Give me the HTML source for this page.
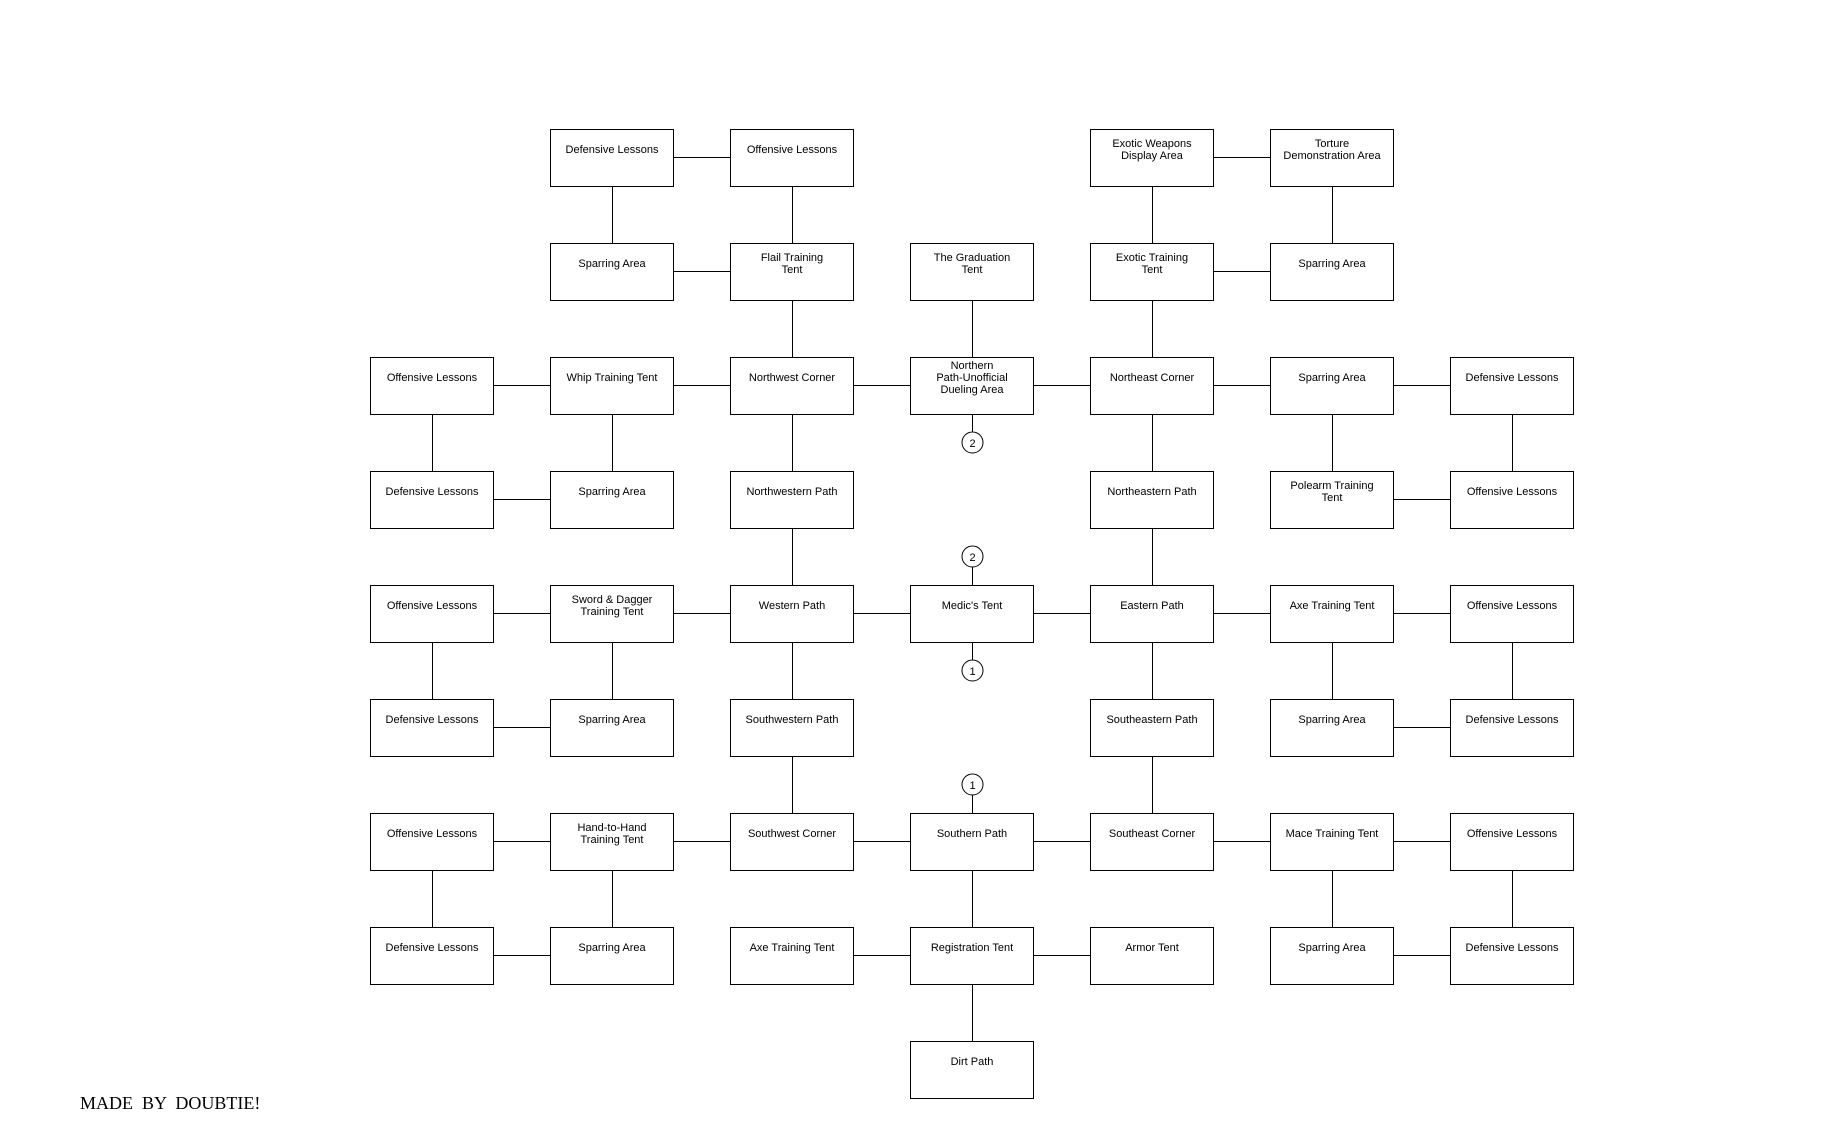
<!DOCTYPE html>
<html><head><meta charset="utf-8"><style>
html,body{margin:0;padding:0;background:#fff;}
svg{display:block;}
text{font-family:"Liberation Sans",Arial,sans-serif;font-size:11px;fill:#000;}
rect{fill:#fff;stroke:#000;stroke-width:1;}
line{stroke:#000;stroke-width:1;}
</style></head><body>
<svg width="1824" height="1136" xmlns="http://www.w3.org/2000/svg">
<g text-anchor="middle">
<line x1="673.5" y1="157.5" x2="730" y2="157.5"/><line x1="1213.5" y1="157.5" x2="1270" y2="157.5"/>
<line x1="673.5" y1="271.5" x2="730" y2="271.5"/><line x1="1213.5" y1="271.5" x2="1270" y2="271.5"/>
<line x1="493.5" y1="385.5" x2="1573" y2="385.5"/>
<line x1="493.5" y1="499.5" x2="550" y2="499.5"/><line x1="1393.5" y1="499.5" x2="1450" y2="499.5"/>
<line x1="493.5" y1="613.5" x2="1573" y2="613.5"/>
<line x1="493.5" y1="727.5" x2="550" y2="727.5"/><line x1="1393.5" y1="727.5" x2="1450" y2="727.5"/>
<line x1="493.5" y1="841.5" x2="1573" y2="841.5"/>
<line x1="493.5" y1="955.5" x2="550" y2="955.5"/><line x1="853.5" y1="955.5" x2="1090" y2="955.5"/><line x1="1393.5" y1="955.5" x2="1450" y2="955.5"/>
<line x1="612.5" y1="186" x2="612.5" y2="243"/><line x1="792.5" y1="186" x2="792.5" y2="243"/><line x1="1152.5" y1="186" x2="1152.5" y2="243"/><line x1="1332.5" y1="186" x2="1332.5" y2="243"/>
<line x1="792.5" y1="300" x2="792.5" y2="357"/><line x1="972.5" y1="300" x2="972.5" y2="357"/><line x1="1152.5" y1="300" x2="1152.5" y2="357"/>
<line x1="432.5" y1="414" x2="432.5" y2="471"/><line x1="612.5" y1="414" x2="612.5" y2="471"/><line x1="792.5" y1="414" x2="792.5" y2="471"/><line x1="1152.5" y1="414" x2="1152.5" y2="471"/><line x1="1332.5" y1="414" x2="1332.5" y2="471"/><line x1="1512.5" y1="414" x2="1512.5" y2="471"/>
<line x1="792.5" y1="528" x2="792.5" y2="585"/><line x1="1152.5" y1="528" x2="1152.5" y2="585"/>
<line x1="432.5" y1="642" x2="432.5" y2="699"/><line x1="612.5" y1="642" x2="612.5" y2="699"/><line x1="792.5" y1="642" x2="792.5" y2="699"/><line x1="1152.5" y1="642" x2="1152.5" y2="699"/><line x1="1332.5" y1="642" x2="1332.5" y2="699"/><line x1="1512.5" y1="642" x2="1512.5" y2="699"/>
<line x1="792.5" y1="756" x2="792.5" y2="813"/><line x1="1152.5" y1="756" x2="1152.5" y2="813"/>
<line x1="432.5" y1="870" x2="432.5" y2="927"/><line x1="612.5" y1="870" x2="612.5" y2="927"/><line x1="972.5" y1="870" x2="972.5" y2="927"/><line x1="1332.5" y1="870" x2="1332.5" y2="927"/><line x1="1512.5" y1="870" x2="1512.5" y2="927"/>
<line x1="972.5" y1="984" x2="972.5" y2="1041"/>
<line x1="972.5" y1="414" x2="972.5" y2="432"/><line x1="972.5" y1="566" x2="972.5" y2="585"/><line x1="972.5" y1="642" x2="972.5" y2="660"/><line x1="972.5" y1="794" x2="972.5" y2="813"/>
<circle cx="972.5" cy="442.5" r="10.5" fill="#fff" stroke="#000"/><text x="972.5" y="447">2</text>
<circle cx="972.5" cy="556.5" r="10.5" fill="#fff" stroke="#000"/><text x="972.5" y="561">2</text>
<circle cx="972.5" cy="670.5" r="10.5" fill="#fff" stroke="#000"/><text x="972.5" y="675">1</text>
<circle cx="972.5" cy="784.5" r="10.5" fill="#fff" stroke="#000"/><text x="972.5" y="789">1</text>

<rect x="550.5" y="129.5" width="123" height="57"/><text x="612" y="153">Defensive Lessons</text>
<rect x="730.5" y="129.5" width="123" height="57"/><text x="792" y="153">Offensive Lessons</text>
<rect x="1090.5" y="129.5" width="123" height="57"/><text x="1152" y="147">Exotic Weapons</text><text x="1152" y="159">Display Area</text>
<rect x="1270.5" y="129.5" width="123" height="57"/><text x="1332" y="147">Torture</text><text x="1332" y="159">Demonstration Area</text>
<rect x="550.5" y="243.5" width="123" height="57"/><text x="612" y="267">Sparring Area</text>
<rect x="730.5" y="243.5" width="123" height="57"/><text x="792" y="261">Flail Training</text><text x="792" y="273">Tent</text>
<rect x="910.5" y="243.5" width="123" height="57"/><text x="972" y="261">The Graduation</text><text x="972" y="273">Tent</text>
<rect x="1090.5" y="243.5" width="123" height="57"/><text x="1152" y="261">Exotic Training</text><text x="1152" y="273">Tent</text>
<rect x="1270.5" y="243.5" width="123" height="57"/><text x="1332" y="267">Sparring Area</text>
<rect x="370.5" y="357.5" width="123" height="57"/><text x="432" y="381">Offensive Lessons</text>
<rect x="550.5" y="357.5" width="123" height="57"/><text x="612" y="381">Whip Training Tent</text>
<rect x="730.5" y="357.5" width="123" height="57"/><text x="792" y="381">Northwest Corner</text>
<rect x="910.5" y="357.5" width="123" height="57"/><text x="972" y="369">Northern</text><text x="972" y="381">Path-Unofficial</text><text x="972" y="393">Dueling Area</text>
<rect x="1090.5" y="357.5" width="123" height="57"/><text x="1152" y="381">Northeast Corner</text>
<rect x="1270.5" y="357.5" width="123" height="57"/><text x="1332" y="381">Sparring Area</text>
<rect x="1450.5" y="357.5" width="123" height="57"/><text x="1512" y="381">Defensive Lessons</text>
<rect x="370.5" y="471.5" width="123" height="57"/><text x="432" y="495">Defensive Lessons</text>
<rect x="550.5" y="471.5" width="123" height="57"/><text x="612" y="495">Sparring Area</text>
<rect x="730.5" y="471.5" width="123" height="57"/><text x="792" y="495">Northwestern Path</text>
<rect x="1090.5" y="471.5" width="123" height="57"/><text x="1152" y="495">Northeastern Path</text>
<rect x="1270.5" y="471.5" width="123" height="57"/><text x="1332" y="489">Polearm Training</text><text x="1332" y="501">Tent</text>
<rect x="1450.5" y="471.5" width="123" height="57"/><text x="1512" y="495">Offensive Lessons</text>
<rect x="370.5" y="585.5" width="123" height="57"/><text x="432" y="609">Offensive Lessons</text>
<rect x="550.5" y="585.5" width="123" height="57"/><text x="612" y="603">Sword &amp; Dagger</text><text x="612" y="615">Training Tent</text>
<rect x="730.5" y="585.5" width="123" height="57"/><text x="792" y="609">Western Path</text>
<rect x="910.5" y="585.5" width="123" height="57"/><text x="972" y="609">Medic's Tent</text>
<rect x="1090.5" y="585.5" width="123" height="57"/><text x="1152" y="609">Eastern Path</text>
<rect x="1270.5" y="585.5" width="123" height="57"/><text x="1332" y="609">Axe Training Tent</text>
<rect x="1450.5" y="585.5" width="123" height="57"/><text x="1512" y="609">Offensive Lessons</text>
<rect x="370.5" y="699.5" width="123" height="57"/><text x="432" y="723">Defensive Lessons</text>
<rect x="550.5" y="699.5" width="123" height="57"/><text x="612" y="723">Sparring Area</text>
<rect x="730.5" y="699.5" width="123" height="57"/><text x="792" y="723">Southwestern Path</text>
<rect x="1090.5" y="699.5" width="123" height="57"/><text x="1152" y="723">Southeastern Path</text>
<rect x="1270.5" y="699.5" width="123" height="57"/><text x="1332" y="723">Sparring Area</text>
<rect x="1450.5" y="699.5" width="123" height="57"/><text x="1512" y="723">Defensive Lessons</text>
<rect x="370.5" y="813.5" width="123" height="57"/><text x="432" y="837">Offensive Lessons</text>
<rect x="550.5" y="813.5" width="123" height="57"/><text x="612" y="831">Hand-to-Hand</text><text x="612" y="843">Training Tent</text>
<rect x="730.5" y="813.5" width="123" height="57"/><text x="792" y="837">Southwest Corner</text>
<rect x="910.5" y="813.5" width="123" height="57"/><text x="972" y="837">Southern Path</text>
<rect x="1090.5" y="813.5" width="123" height="57"/><text x="1152" y="837">Southeast Corner</text>
<rect x="1270.5" y="813.5" width="123" height="57"/><text x="1332" y="837">Mace Training Tent</text>
<rect x="1450.5" y="813.5" width="123" height="57"/><text x="1512" y="837">Offensive Lessons</text>
<rect x="370.5" y="927.5" width="123" height="57"/><text x="432" y="951">Defensive Lessons</text>
<rect x="550.5" y="927.5" width="123" height="57"/><text x="612" y="951">Sparring Area</text>
<rect x="730.5" y="927.5" width="123" height="57"/><text x="792" y="951">Axe Training Tent</text>
<rect x="910.5" y="927.5" width="123" height="57"/><text x="972" y="951">Registration Tent</text>
<rect x="1090.5" y="927.5" width="123" height="57"/><text x="1152" y="951">Armor Tent</text>
<rect x="1270.5" y="927.5" width="123" height="57"/><text x="1332" y="951">Sparring Area</text>
<rect x="1450.5" y="927.5" width="123" height="57"/><text x="1512" y="951">Defensive Lessons</text>
<rect x="910.5" y="1041.5" width="123" height="57"/><text x="972" y="1065">Dirt Path</text>
</g>
<text x="80" y="1109" style="font-family:'Liberation Serif','Times New Roman',serif;font-size:18px;" xml:space="preserve">MADE  BY  DOUBTIE!</text>
</svg>
</body></html>
